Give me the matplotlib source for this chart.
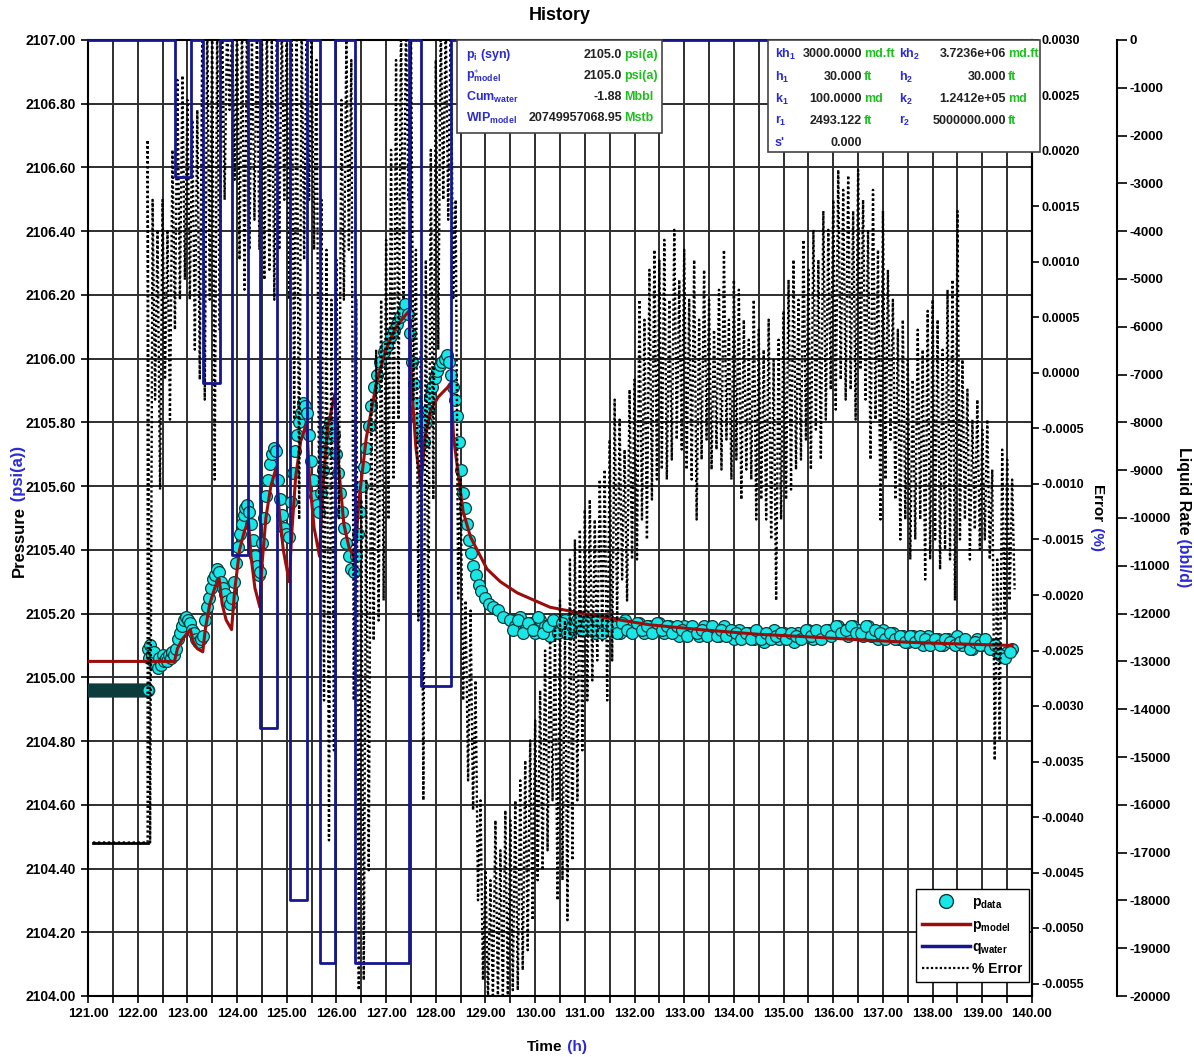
import numpy as np
import matplotlib.pyplot as plt
from matplotlib.patches import Rectangle
from matplotlib.lines import Line2D
from matplotlib.ticker import MultipleLocator, FuncFormatter

plt.rcParams['font.family'] = ['Liberation Sans', 'DejaVu Sans']
plt.rcParams['font.weight'] = 'bold'
plt.rcParams['mathtext.fontset'] = 'custom'
plt.rcParams['mathtext.rm'] = 'Liberation Sans:bold'
plt.rcParams['mathtext.it'] = 'Liberation Sans:bold'
plt.rcParams['mathtext.bf'] = 'Liberation Sans:bold'

# ---- data ----
# initial (pre-test) pressure, flat
init_t = [121.0, 122.2]
init_p = 2104.96

# measured pressure, transient part
pd_t = [122.20, 122.22, 122.25, 122.28, 122.30, 122.33, 122.36, 122.40, 122.43, 122.46,
        122.50, 122.53, 122.56, 122.60, 122.63, 122.67, 122.70, 122.73,
        122.78, 122.82, 122.86, 122.90, 122.94, 122.98, 123.02, 123.06,
        123.10, 123.14, 123.18, 123.22, 123.27, 123.31,
        123.35, 123.39, 123.43, 123.47, 123.51, 123.55, 123.59, 123.63,
        123.67, 123.71, 123.75, 123.80, 123.85, 123.89,
        123.93, 123.97, 124.01, 124.05, 124.09, 124.13, 124.17, 124.21, 124.24,
        124.28, 124.32, 124.36, 124.40, 124.44, 124.47,
        124.51, 124.55, 124.59, 124.63, 124.67, 124.71, 124.75, 124.79,
        124.83, 124.87, 124.91, 124.95, 124.99, 125.04,
        125.08, 125.12, 125.16, 125.20, 125.24, 125.28, 125.32, 125.37, 125.40,
        125.44, 125.48, 125.52, 125.56, 125.60, 125.64,
        125.68, 125.72, 125.76, 125.80, 125.84, 125.88, 125.92, 125.96,
        126.00, 126.04, 126.08, 126.12, 126.16, 126.20, 126.25, 126.30, 126.35,
        126.40, 126.44, 126.48, 126.52, 126.56, 126.60, 126.65, 126.70, 126.76, 126.82,
        126.88, 126.95, 127.02, 127.09, 127.16, 127.22, 127.28, 127.34, 127.39, 127.44,
        127.48, 127.52, 127.56, 127.60, 127.64, 127.68, 127.72, 127.76,
        127.80, 127.84, 127.88, 127.93, 127.98, 128.03, 128.08, 128.13, 128.18, 128.23, 128.27,
        128.30, 128.34, 128.38, 128.42, 128.46, 128.50, 128.54, 128.58, 128.62, 128.66,
        128.70, 128.75, 128.80, 128.86, 128.92, 129.00, 129.08, 129.16, 129.25, 129.35]
pd_p = [2105.09, 2105.06, 2105.10, 2105.07, 2105.05, 2105.08, 2105.04, 2105.03, 2105.06, 2105.04,
        2105.07, 2105.05, 2105.06, 2105.05, 2105.07, 2105.06, 2105.08, 2105.07,
        2105.09, 2105.12, 2105.14, 2105.16, 2105.18, 2105.19, 2105.18, 2105.17,
        2105.15, 2105.14, 2105.12, 2105.11, 2105.12, 2105.13,
        2105.18, 2105.22, 2105.25, 2105.28, 2105.31, 2105.32, 2105.34, 2105.33,
        2105.30, 2105.28, 2105.26, 2105.24, 2105.23, 2105.25,
        2105.30, 2105.36, 2105.41, 2105.45, 2105.48, 2105.51, 2105.53, 2105.54, 2105.52,
        2105.48, 2105.43, 2105.38, 2105.35, 2105.32, 2105.33,
        2105.42, 2105.50, 2105.57, 2105.62, 2105.67, 2105.70, 2105.72, 2105.71,
        2105.62, 2105.56, 2105.51, 2105.47, 2105.45, 2105.44,
        2105.55, 2105.64, 2105.71, 2105.76, 2105.80, 2105.83, 2105.86, 2105.85, 2105.83,
        2105.76, 2105.68, 2105.62, 2105.57, 2105.54, 2105.52,
        2105.58, 2105.65, 2105.71, 2105.75, 2105.78, 2105.80, 2105.79, 2105.76,
        2105.70, 2105.64, 2105.58, 2105.52, 2105.47, 2105.42, 2105.38, 2105.34, 2105.33,
        2105.38, 2105.45, 2105.52, 2105.60, 2105.66, 2105.72, 2105.79, 2105.85, 2105.91, 2105.95,
        2105.99, 2106.02, 2106.04, 2106.07, 2106.09, 2106.11, 2106.13, 2106.15, 2106.17, 2106.14,
        2106.08, 2105.99, 2105.92, 2105.86, 2105.81, 2105.77, 2105.75, 2105.74,
        2105.80, 2105.84, 2105.88, 2105.91, 2105.94, 2105.96, 2105.98, 2105.99, 2106.00, 2106.01, 2105.99,
        2105.95, 2105.91, 2105.87, 2105.82, 2105.74, 2105.65, 2105.58, 2105.53, 2105.48, 2105.43,
        2105.39, 2105.35, 2105.32, 2105.29, 2105.27, 2105.25, 2105.23, 2105.22, 2105.21, 2105.19]

# measured pressure, late time: two interleaved rows, every 0.1 h from 129.5 h and 129.55 h
late_t0, late_dt = 129.5, 0.1
late_p = [2105.18, 2105.16, 2105.19, 2105.15, 2105.17, 2105.14, 2105.18, 2105.16, 2105.13, 2105.17,
          2105.15, 2105.18, 2105.14, 2105.16, 2105.19, 2105.15, 2105.17, 2105.14, 2105.18, 2105.16,
          2105.15, 2105.17, 2105.14, 2105.18, 2105.16, 2105.15, 2105.17, 2105.14, 2105.16, 2105.15,
          2105.17, 2105.14, 2105.16, 2105.15, 2105.13, 2105.16, 2105.14, 2105.15, 2105.13, 2105.16,
          2105.14, 2105.15, 2105.13, 2105.16, 2105.14, 2105.12, 2105.15, 2105.13, 2105.14, 2105.12,
          2105.14, 2105.11, 2105.13, 2105.15, 2105.12, 2105.14, 2105.13, 2105.11, 2105.14, 2105.13,
          2105.15, 2105.12, 2105.14, 2105.13, 2105.15, 2105.14, 2105.16, 2105.15, 2105.13, 2105.16,
          2105.15, 2105.13, 2105.16, 2105.14, 2105.12, 2105.15, 2105.13, 2105.14, 2105.12, 2105.13,
          2105.11, 2105.13, 2105.12, 2105.10, 2105.13, 2105.11, 2105.12, 2105.10, 2105.12, 2105.11,
          2105.13, 2105.10, 2105.11, 2105.09, 2105.12, 2105.10, 2105.11, 2105.09, 2105.08, 2105.07,
          2105.08, 2105.09]
late2_t0 = 129.55
late2_p = [2105.15, 2105.18, 2105.14, 2105.17, 2105.15, 2105.19, 2105.14, 2105.16, 2105.18, 2105.14,
           2105.17, 2105.14, 2105.16, 2105.18, 2105.15, 2105.17, 2105.15, 2105.18, 2105.14, 2105.17,
           2105.16, 2105.14, 2105.17, 2105.15, 2105.14, 2105.17, 2105.15, 2105.16, 2105.14, 2105.17,
           2105.15, 2105.16, 2105.14, 2105.16, 2105.15, 2105.13, 2105.16, 2105.14, 2105.15, 2105.13,
           2105.16, 2105.13, 2105.15, 2105.13, 2105.15, 2105.14, 2105.12, 2105.14, 2105.12, 2105.15,
           2105.12, 2105.14, 2105.12, 2105.13, 2105.14, 2105.12, 2105.14, 2105.13, 2105.12, 2105.15,
           2105.13, 2105.15, 2105.12, 2105.15, 2105.13, 2105.16, 2105.14, 2105.15, 2105.16, 2105.14,
           2105.14, 2105.16, 2105.13, 2105.15, 2105.14, 2105.12, 2105.14, 2105.12, 2105.13, 2105.11,
           2105.13, 2105.11, 2105.13, 2105.12, 2105.10, 2105.12, 2105.10, 2105.12, 2105.11, 2105.10,
           2105.11, 2105.12, 2105.09, 2105.11, 2105.10, 2105.12, 2105.09, 2105.10, 2105.07, 2105.06,
           2105.08]

# model pressure
pm_t = [121.0, 122.74, 122.80, 122.90, 123.06, 123.12, 123.20, 123.31, 123.36, 123.45, 123.55,
        123.64, 123.70, 123.78, 123.89, 123.95, 124.05, 124.15, 124.23, 124.28, 124.36, 124.46,
        124.50, 124.58, 124.68, 124.79, 124.85, 124.93, 125.05, 125.10, 125.18, 125.28, 125.40,
        125.46, 125.55, 125.66, 125.72, 125.82, 125.97, 126.05, 126.15, 126.25, 126.37, 126.45,
        126.60, 126.80, 127.00, 127.20, 127.46, 127.52, 127.60, 127.70, 127.78, 127.90, 128.05,
        128.30, 128.36, 128.45, 128.55, 128.70, 129.03, 129.30, 129.64, 130.3, 131.3, 132.3,
        133.3, 134.5, 135.5, 136.5, 137.5, 138.5, 139.6]
pm_p = [2105.05, 2105.05, 2105.09, 2105.12, 2105.15, 2105.11, 2105.09, 2105.08, 2105.15, 2105.23, 2105.28,
        2105.31, 2105.23, 2105.18, 2105.15, 2105.27, 2105.40, 2105.46, 2105.49, 2105.38, 2105.28, 2105.22,
        2105.35, 2105.50, 2105.60, 2105.66, 2105.52, 2105.40, 2105.30, 2105.45, 2105.63, 2105.74, 2105.80,
        2105.62, 2105.47, 2105.38, 2105.58, 2105.78, 2105.89, 2105.65, 2105.48, 2105.41, 2105.37, 2105.55,
        2105.75, 2105.92, 2106.03, 2106.10, 2106.15, 2105.90, 2105.72, 2105.60, 2105.75, 2105.84, 2105.88,
        2105.92, 2105.75, 2105.64, 2105.52, 2105.44, 2105.34, 2105.30, 2105.265, 2105.22, 2105.19, 2105.165,
        2105.15, 2105.135, 2105.127, 2105.118, 2105.11, 2105.105, 2105.10]

# water rate steps (bbl/d), value holds from each time to the next
q_t = [121.0, 122.745, 123.067, 123.315, 123.65, 123.90, 124.23, 124.46, 124.80, 125.06,
       125.40, 125.66, 125.98, 126.37, 127.46, 127.70, 128.30, 140.0]
q_v = [0, -2860, 0, -7180, 0, -10770, 0, -14390, 0, -18000,
       0, -19300, 0, -19300, 0, -13510, 0, 0]

# % error (x1e-4): flat start, then high/low swing every 0.1 h from 122.2 h
err_flat_t = [121.1, 122.2]
err_flat_v = -42.3
err_t0, err_dt = 122.2, 0.1
err_hi = [21.0, 15.6, 12.9, 15.6, 12.9, 20.1, 26.4, 26.8, 24.6, 22.8, 23.7, 31, 32, 32, 32, 32, 32, 31,
          32, 32, 32, 30, 32, 32, 32, 30, 32, 32, 32, 32, 32, 32, 32, 30, 28.2, 15.6, 11.1, 6.6, 10.2,
          24.6, 30, 28.2, 6.6, -11.4, -9.6, -2.4, 2.1, 6.6, 12, 20.1, 28.2, 32, 32, 32, 11.1, 2.1, 10.2,
          20.1, 28.2, 32, 32, 32, 15.6, -9.6, -20.5, -21.4, -27.7, -38.5, -44.8, -45.7, -40.3, -43,
          -39.4, -40.3, -38.5, -36.7, -34.9, -33.1, -31.3, -28.6, -25, -24.1, -23.2, -20.5, -22.3,
          -16.8, -15, -14.1, -12.3, -11.4, -13.2, -9.6, -8.7, -6, -2.4, -4.2, -6.9, -1.5, -0.6, 6.6,
          4.8, 9.3, 11.1, 10.2, 12, 6.6, 12.9, 8.4, 11.1, 6.6, 10.2, 4.8, 9.3, 6.6, 3.9, 7.5, 11.1,
          4.8, 8.4, 7.5, 4.8, 3, 6.6, 3.9, 2.1, 4.8, 1.2, 3, 5.6, 8.4, 10.2, 6.6, 12, 9.3, 12.9, 10.2,
          14.6, 12.9, 15.6, 18.3, 16.5, 17.8, 14.6, 18.3, 15.6, 12.9, 16.5, 11.1, 14.6, 9.3, 6.6, 3.9,
          4.8, 1.2, -0.6, 3.9, 2.1, 5.6, 6.6, 4.8, 2.1, 7.5, 8.4, 14.6, 1.2, -1.5, -4.2, -2.4, -5.1,
          -4.2, -8.7, -16.8, -6.9, -7.8, -9.6]
err_lo = [-42.3, -2.4, -10.5, -0.6, -4.2, 3.9, 6.6, 8.4, 6.6, 2.1, -0.6, -2.4, 6.6, -9.6, 3.9, 15.6,
          23.7, 17.4, 10.2, 7.5, 11.1, 13.8, 11.1, 8.4, 9.3, 6.6, 11.1, 15.6, 6.6, -4.2, -13.2, 10.2,
          15.6, 11.1, -11.4, -29.5, -42.1, -34, -13.2, 6.6, 11.1, -29.5, -55.6, -54.7, -44.8, -24.1,
          -22.3, -20.5, -13.2, -9.6, -4.2, 6.6, 15.6, -2.4, -22.3, -38.5, -25, -11.4, 2.1, 15.6, 13.8,
          6.6, -20.5, -29.5, -36.7, -39.4, -47.5, -54.7, -56.5, -56.5, -56.5, -56.5, -56.5, -55.6,
          -55.6, -53.8, -52, -49.3, -45.7, -44.8, -43, -38.5, -47.5, -45.7, -49.3, -43.9, -38.5, -34,
          -29.5, -27.7, -25.9, -24.1, -29.5, -25.9, -22.3, -18.6, -20.5, -16.8, -16.8, -13.2, -15,
          -11.4, -9.6, -8.7, -9.6, -7.8, -6, -6.9, -8.7, -9.6, -13.2, -7.8, -6, -8.7, -6.9, -8.7, -6,
          -9.6, -7.8, -11.4, -8.7, -9.6, -13.2, -11.4, -13.2, -15, -20.5, -13.2, -11.4, -10.5, -8.7,
          -7.8, -6, -8.7, -5.1, -7.8, -4.2, -1.5, -3.3, -0.6, -2.4, -1.5, -4.2, 0.3, -2.4, -7.8, -4.2,
          -13.2, -9.6, -6, -11.4, -15, -13.2, -16.8, -15, -13.2, -18.6, -16.8, -15, -17.7, -15.9,
          -16.8, -20.5, -15, -13.2, -16.8, -14.1, -15.9, -15, -16.8, -34.9, -33.1, -22.3, -20.5, -19.5]

# ---- figure ----
W, H = 1194, 1057
fig = plt.figure(figsize=(W / 100, H / 100), dpi=100)


def fx(px):
    return px / W


def fy(py):
    return 1 - py / H


ax = fig.add_axes([fx(88), fy(996), (1032 - 88) / W, (996 - 40) / H])
ax2 = ax.twinx()
ax3 = ax.twinx()
ax3.spines['right'].set_position(('axes', (1117 - 88) / 944))

cyan, cyan_edge = '#19e6e6', '#0c3c3c'
red, navy, lblue, green = '#9b0d0d', '#16168f', '#2b2bd0', '#1fbf1f'
gridc = '#2e2e2e'
circ = dict(ls='none', marker='o', ms=8.5, mfc=cyan, mec=cyan_edge, mew=0.9, zorder=3)

# pressure
init_ts = np.arange(init_t[0], init_t[1] + 0.001, 0.02)
ax.plot(init_ts, [init_p] * len(init_ts), **dict(circ, mew=1.3))
ax.plot(pd_t, pd_p, **circ)
ax.plot(late_t0 + late_dt * np.arange(len(late_p)), late_p, **circ)
ax.plot(late2_t0 + late_dt * np.arange(len(late2_p)), late2_p, **circ)
ax.plot(pm_t, pm_p, '-', color=red, lw=2.2, zorder=4)

# % error as zig-zag between read highs/lows
e_t = err_t0 + err_dt * np.arange(len(err_hi))
zz_t = np.column_stack([e_t, e_t + err_dt / 2]).ravel()
zz_v = np.column_stack([err_hi, err_lo]).ravel()
ax2.plot(err_flat_t, np.array([err_flat_v, err_flat_v]) * 1e-4, '-', color='black', lw=2)
ax2.plot(np.concatenate([err_flat_t, zz_t]), np.concatenate([[err_flat_v, err_flat_v], zz_v]) * 1e-4,
         color='black', lw=1.7, dashes=(1, 1.1))

# rate
ax3.plot(q_t, q_v, drawstyle='steps-post', color=navy, lw=2, clip_on=False)

# axes ranges / ticks
ax.set_xlim(121, 140)
ax.set_ylim(2104, 2107)
ax2.set_ylim(0.003 - 956 / 111000, 0.003)
ax3.set_ylim(-20000, 0)

ax.xaxis.set_major_locator(MultipleLocator(1))
ax.xaxis.set_minor_locator(MultipleLocator(0.5))
ax.yaxis.set_major_locator(MultipleLocator(0.2))
ax.xaxis.set_major_formatter(FuncFormatter(lambda v, p: f'{v:.2f}'))
ax.yaxis.set_major_formatter(FuncFormatter(lambda v, p: f'{v:.2f}'))
ax2.yaxis.set_major_locator(MultipleLocator(0.0005))
ax2.yaxis.set_major_formatter(FuncFormatter(lambda v, p: f'{0 if abs(v) < 1e-9 else v:.4f}'))
ax3.yaxis.set_major_locator(MultipleLocator(1000))
ax3.yaxis.set_major_formatter(FuncFormatter(lambda v, p: f'{v:.0f}'))

ax.grid(True, which='both', axis='x', color=gridc, lw=1.4)
ax.grid(True, which='major', axis='y', color=gridc, lw=1.4)
ax.set_axisbelow(True)

ax.tick_params(axis='both', which='both', labelsize=9.5, width=1.2, length=5, color='black')
ax.tick_params(axis='y', labelsize=10)
ax2.tick_params(axis='y', labelsize=9, width=1.2, length=5, pad=2)
ax3.tick_params(axis='y', labelsize=9.5, width=1.2, length=7, pad=2)
for a in (ax, ax2, ax3):
    for lab in a.get_xticklabels() + a.get_yticklabels():
        lab.set_fontweight('bold')
for s in ax.spines.values():
    s.set_linewidth(1.5)
for a in (ax2, ax3):
    for k in ('left', 'top', 'bottom'):
        a.spines[k].set_visible(False)
    a.spines['right'].set_linewidth(1.5)

# ---- multi-colour labels ----
renderer = fig.canvas.get_renderer()


def chain(pieces, cx, cy, rot, size):
    texts = []
    for s, c in pieces:
        t = fig.text(0, 0, s, color=c, fontsize=size, fontweight='bold', rotation=rot,
                     ha='left' if rot == 0 else 'center',
                     va='center' if rot == 0 else ('bottom' if rot == 90 else 'top'))
        texts.append(t)
    lens = []
    for t in texts:
        bb = t.get_window_extent(renderer)
        lens.append(bb.width if rot == 0 else bb.height)
    total = sum(lens)
    if rot == 0:
        x = cx - total / 2
        for t, L in zip(texts, lens):
            t.set_position((fx(x), fy(cy)))
            x += L
    elif rot == 90:
        y = cy + total / 2
        for t, L in zip(texts, lens):
            t.set_position((fx(cx), fy(y)))
            y -= L
    else:
        y = cy - total / 2
        for t, L in zip(texts, lens):
            t.set_position((fx(cx), fy(y)))
            y += L


chain([('Pressure', 'black'), (' (psi(a))', lblue)], 19, 511, 90, 12)
chain([('Error', 'black'), (' (%)', lblue)], 1097, 518, 270, 11)
chain([('Liquid Rate', 'black'), (' (bbl/d)', lblue)], 1183, 517, 270, 11.5)
chain([('Time', 'black'), (' (h)', lblue)], 557, 1047, 0, 11)
fig.text(fx(560), fy(16), 'History', ha='center', va='center', fontsize=13, fontweight='bold')

# ---- info boxes ----
fig.add_artist(Rectangle((fx(457), fy(133)), (662 - 457) / W, (133 - 40) / H, transform=fig.transFigure,
                         facecolor='white', edgecolor='#444444', lw=1.2, zorder=5))
box1_labels = [r'p$_\mathrm{i}$ (syn)', r'p$^{\ast}_\mathrm{model}$', r'Cum$_\mathrm{water}$', r'WIP$_\mathrm{model}$']
box1_values = ['2105.0', '2105.0', '-1.88', '20749957068.95']
box1_units = ['psi(a)', 'psi(a)', 'Mbbl', 'Mstb']
for i, yy in enumerate([55, 76, 97, 118]):
    fig.text(fx(466), fy(yy), box1_labels[i], color=lblue, fontsize=9, va='center', zorder=6)
    fig.text(fx(622), fy(yy), box1_values[i], color='#222222', fontsize=9, va='center', ha='right', zorder=6)
    fig.text(fx(624), fy(yy), box1_units[i], color=green, fontsize=9, va='center', zorder=6)

fig.add_artist(Rectangle((fx(768), fy(152)), (1040 - 768) / W, (152 - 40) / H, transform=fig.transFigure,
                         facecolor='white', edgecolor='#444444', lw=1.2, zorder=5))
box2_l1 = [r'kh$_1$', r'h$_1$', r'k$_1$', r'r$_1$', "s'"]
box2_v1 = ['3000.0000', '30.000', '100.0000', '2493.122', '0.000']
box2_u1 = ['md.ft', 'ft', 'md', 'ft', '']
box2_l2 = [r'kh$_2$', r'h$_2$', r'k$_2$', r'r$_2$', '']
box2_v2 = ['3.7236e+06', '30.000', '1.2412e+05', '5000000.000', '']
box2_u2 = ['md.ft', 'ft', 'md', 'ft', '']
for i, yy in enumerate([54, 77, 99, 121, 143]):
    fig.text(fx(775), fy(yy), box2_l1[i], color=lblue, fontsize=9, va='center', zorder=6)
    fig.text(fx(862), fy(yy), box2_v1[i], color='#222222', fontsize=9, va='center', ha='right', zorder=6)
    fig.text(fx(864), fy(yy), box2_u1[i], color=green, fontsize=9, va='center', zorder=6)
    fig.text(fx(899), fy(yy), box2_l2[i], color=lblue, fontsize=9, va='center', zorder=6)
    fig.text(fx(1006), fy(yy), box2_v2[i], color='#222222', fontsize=9, va='center', ha='right', zorder=6)
    fig.text(fx(1008), fy(yy), box2_u2[i], color=green, fontsize=9, va='center', zorder=6)

# ---- legend ----
handles = [Line2D([], [], ls='none', marker='o', ms=10, mfc=cyan, mec=cyan_edge, mew=1),
           Line2D([], [], color=red, lw=2.5),
           Line2D([], [], color=navy, lw=2.5),
           Line2D([], [], color='black', lw=1.6, dashes=(1, 1))]
labels = [r'p$_\mathrm{data}$', r'p$_\mathrm{model}$', r'q$_\mathrm{water}$', '% Error']
fig.legend(handles, labels, loc='upper right', bbox_to_anchor=(fx(1029), fy(889)), frameon=True,
           fancybox=False, edgecolor='black', framealpha=1, fontsize=10, handlelength=3.4,
           handletextpad=0.2, labelspacing=0.45, borderpad=0.45, borderaxespad=0)

fig.savefig('out.png', dpi=100)
